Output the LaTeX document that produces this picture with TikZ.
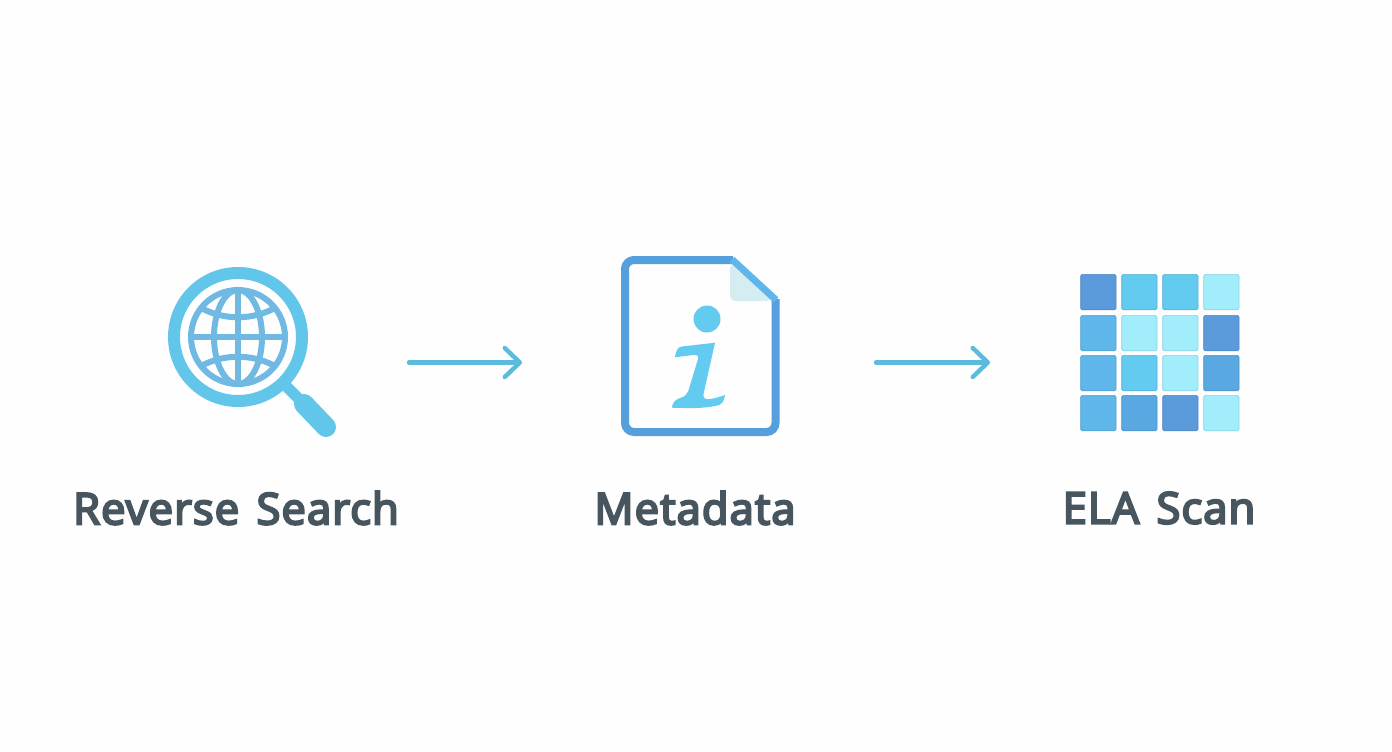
\documentclass[tikz,border=0pt]{standalone}
\usepackage{fontspec}
\setmainfont{Open Sans}
\newfontfamily\labelfont{Open Sans}[FakeBold=5,LetterSpace=2.5,WordSpace=1.4]
\usetikzlibrary{arrows.meta}
\definecolor{paper}{HTML}{FEFEFE}
\definecolor{ringblue}{HTML}{62C6EA}
\definecolor{globeblue}{HTML}{70B9E2}
\definecolor{docblue}{HTML}{559FDD}
\definecolor{foldblue}{HTML}{D5EDF1}
\definecolor{inkgrey}{HTML}{47555F}
\definecolor{flowblue}{HTML}{5CBADB}
\definecolor{tiledark}{HTML}{5B9BDC}
\definecolor{tilemid}{HTML}{5AA8E2}
\definecolor{tilesoft}{HTML}{5FB6EA}
\definecolor{tilesky}{HTML}{63CAF0}
\definecolor{tilepale}{HTML}{A2EDFB}
\tikzset{
  iconbox/.style={minimum height=160pt,inner sep=0pt,outer sep=0pt},
  tlabel/.style={font=\fontsize{43.5}{43.5}\selectfont\labelfont,text=inkgrey,inner sep=0pt},
  tile/.style={minimum size=35.4pt,inner sep=0pt,rounded corners=1.5pt,line width=.7pt},
  flow/.style={draw=flowblue,line width=4.4pt,line cap=round,
    -{Straight Barb[length=15pt,width=29pt,line width=4.4pt,round]}},
  grid line/.style={draw=globeblue,line width=6pt}
}
\begin{document}
\begin{tikzpicture}[x=1pt,y=-1pt]
\useasboundingbox (0,0) rectangle (1392,752);
\fill[paper] (0,0) rectangle (1392,752);
% icon slots
\node[iconbox,minimum width=168pt] (search) at (252,362.5) {};
\node[iconbox,minimum width=158pt] (meta) at (700,362.5) {};
\node[iconbox,minimum width=160pt] (ela) at (1160,362.5) {};
% magnifier
\draw[line width=12pt,ringblue] (238,337) circle (64);
\draw[line width=11pt,ringblue] (282,382) -- (300,400);
\draw[line width=20pt,ringblue,line cap=round] (304,404) -- (326,427);
% globe
\draw[grid line] (238,337) circle (47);
\draw[grid line] (238,337) ellipse (24 and 47);
\draw[grid line] (238,290) -- (238,384);
\draw[grid line] (191,337) -- (285,337);
\draw[grid line] (203,309) .. controls (225,320) and (251,320) .. (273,309);
\draw[grid line] (203,365) .. controls (225,354) and (251,354) .. (273,365);
% document
\draw[line width=8pt,docblue,line join=round,rounded corners=9pt]
  (733,260) -- (625,260) -- (625,432) -- (775.5,432) -- (775.5,299);
\fill[foldblue,rounded corners=5pt] (730,263) -- (730,301) -- (772,301) -- cycle;
\draw[line width=7pt,tilesoft] (732,259.5) -- (776,300);
\fill[tilesky] (707,319) circle (13.5);
\fill[tilesky] (675,357.3) .. controls (676,350) and (678,347) .. (682,346.5)
  -- (715,342.7) -- (703.3,395) .. controls (703,400) and (708,401) .. (725,395)
  .. controls (724,402) and (722,405) .. (715,406) .. controls (700,409) and (685,408) .. (671.7,407.7)
  .. controls (673,402) and (675,400) .. (680,398) .. controls (685,397) and (687,394) .. (688.3,391)
  -- (698,359) .. controls (699,355) and (696,354.5) .. (693,355) -- cycle;
% tiles
\foreach \ty/\tr/\tcols in {274/1/{tiledark,tilesky,tilesky,tilepale},
    315/2/{tilesoft,tilepale,tilepale,tiledark},
    355/3/{tilesoft,tilesky,tilepale,tilemid},
    395/4/{tilesoft,tilemid,tiledark,tilepale}}{
  \foreach \tc [count=\ti] in \tcols {
    \node[tile,fill=\tc,draw=\tc!88!black,anchor=north west] (tile-\tr-\ti) at ({1039.3+41*\ti},\ty) {};
  }
}
% arrows
\draw[flow,shorten <=73pt,shorten >=99pt] (search.east) -- (meta.west);
\draw[flow,shorten <=97pt,shorten >=90pt] (meta.east) -- (ela.west);
% labels
\node[tlabel] (searchlabel) at (236,508) {Reverse Search};
\node[tlabel] (metalabel) at (695,508) {Metadata};
\node[tlabel] (elalabel) at (1159,508) {ELA Scan};
\end{tikzpicture}
\end{document}
